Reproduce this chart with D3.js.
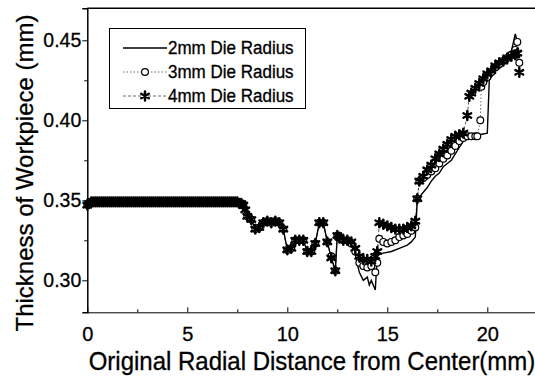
<!DOCTYPE html>
<html>
<head>
<meta charset="utf-8">
<script src="https://cdn.jsdelivr.net/npm/d3@7"></script>
<style>
  html, body { margin: 0; padding: 0; background: #fff; }
  svg { display: block; font-family: "Liberation Sans", Arial, Helvetica, sans-serif; }
  svg text { stroke: #000; stroke-width: 0.3px; }
</style>
</head>
<body>
<div id="chart"></div>
<script>
// tick labels
const xTicks = [0, 5, 10, 15, 20];
const xMinor = [2.5, 7.5, 12.5, 17.5];
const yTicks = [0.30, 0.35, 0.40, 0.45];
const yMinor = [0.325, 0.375, 0.425];
const seriesNames = ["2mm Die Radius", "3mm Die Radius", "4mm Die Radius"];

// [radial distance (mm), thickness (mm)]
const die2mm = [
  [0,0.347],[0.2,0.349],[0.4,0.349],[0.6,0.349],[0.8,0.349],[1.0,0.349],[1.2,0.349],[1.4,0.349],[1.6,0.349],[1.8,0.349],
  [2.0,0.349],[2.2,0.349],[2.4,0.349],[2.6,0.349],[2.8,0.349],[3.0,0.349],[3.2,0.349],[3.4,0.349],[3.6,0.349],[3.8,0.349],
  [4.0,0.349],[4.2,0.349],[4.4,0.349],[4.6,0.349],[4.8,0.349],[5.0,0.349],[5.2,0.349],[5.4,0.349],[5.6,0.349],[5.8,0.349],
  [6.0,0.349],[6.2,0.349],[6.4,0.349],[6.6,0.349],[6.8,0.349],[7.0,0.349],[7.2,0.349],[7.4,0.349],[7.6,0.348],[7.8,0.347],
  [8.0,0.340],[8.2,0.338],[8.4,0.332],[8.6,0.333],[8.8,0.336],[9.0,0.337],[9.2,0.336],[9.4,0.337],[9.6,0.336],[9.8,0.332],
  [10.0,0.319],[10.2,0.320],[10.4,0.325],[10.6,0.325],[10.8,0.325],[11.0,0.318],[11.2,0.318],[11.4,0.323],[11.6,0.336],[11.8,0.336],
  [12.0,0.324],[12.2,0.314],[12.4,0.306],[12.5,0.328],[12.6,0.327],[12.8,0.325],[13.0,0.325],[13.2,0.322],[13.4,0.316],[13.6,0.305],
  [13.8,0.300],[14.0,0.302],[14.1,0.297],[14.2,0.300],[14.4,0.294],[14.5,0.316],[14.8,0.317],[15.2,0.318],[15.6,0.320],[16.0,0.322],
  [16.2,0.324],[16.4,0.327],[16.5,0.350],[16.6,0.352],[16.8,0.355],[17.0,0.358],[17.2,0.362],[17.4,0.365],[17.6,0.367],[17.8,0.371],
  [18.0,0.373],[18.2,0.375],[18.4,0.379],[18.6,0.383],[18.8,0.387],[19.0,0.389],[19.2,0.391],[19.6,0.391],[20.0,0.392],[20.1,0.425],
  [20.4,0.431],[20.7,0.435],[21.0,0.439],[21.2,0.443],[21.4,0.454],[21.5,0.449]
];

const die3mm = [
  [0,0.347],[0.2,0.349],[0.4,0.349],[0.6,0.349],[0.8,0.349],[1.0,0.349],[1.2,0.349],[1.4,0.349],[1.6,0.349],[1.8,0.349],
  [2.0,0.349],[2.2,0.349],[2.4,0.349],[2.6,0.349],[2.8,0.349],[3.0,0.349],[3.2,0.349],[3.4,0.349],[3.6,0.349],[3.8,0.349],
  [4.0,0.349],[4.2,0.349],[4.4,0.349],[4.6,0.349],[4.8,0.349],[5.0,0.349],[5.2,0.349],[5.4,0.349],[5.6,0.349],[5.8,0.349],
  [6.0,0.349],[6.2,0.349],[6.4,0.349],[6.6,0.349],[6.8,0.349],[7.0,0.349],[7.2,0.349],[7.4,0.349],[7.6,0.348],[7.8,0.347],
  [8.0,0.340],[8.2,0.338],[8.4,0.332],[8.6,0.333],[8.8,0.336],[9.0,0.337],[9.2,0.336],[9.4,0.337],[9.6,0.336],[9.8,0.332],
  [10.0,0.319],[10.2,0.320],[10.4,0.325],[10.6,0.325],[10.8,0.325],[11.0,0.318],[11.2,0.318],[11.4,0.323],[11.6,0.336],[11.8,0.336],
  [12.0,0.324],[12.2,0.315],[12.4,0.306],[12.5,0.328],[12.6,0.327],[12.8,0.325],[13.0,0.325],[13.2,0.323],[13.4,0.318],[13.6,0.311],
  [13.8,0.309],[14.0,0.308],[14.2,0.309],[14.4,0.305],[14.5,0.311],[14.6,0.326],[14.8,0.324],[15.0,0.323],[15.2,0.324],[15.4,0.325],
  [15.6,0.327],[15.8,0.328],[16.0,0.329],[16.2,0.331],[16.4,0.333],[16.5,0.351],[16.6,0.362],[16.8,0.364],[17.0,0.366],[17.2,0.368],
  [17.4,0.370],[17.6,0.373],[17.8,0.376],[18.0,0.378],[18.2,0.381],[18.4,0.384],[18.6,0.387],[18.8,0.389],[19.0,0.390],[19.2,0.390],
  [19.4,0.390],[19.5,0.390],[19.65,0.400],[19.7,0.421],[19.8,0.424],[20.0,0.427],[20.2,0.430],[20.4,0.433],[20.6,0.435],[20.8,0.437],
  [21.0,0.439],[21.2,0.441],[21.4,0.444],[21.5,0.449],[21.6,0.436]
];

const die4mm = [
  [0,0.347],[0.1,0.348],[0.2,0.349],[0.3,0.349],[0.4,0.349],[0.5,0.349],[0.6,0.349],[0.7,0.349],[0.8,0.349],[0.9,0.349],
  [1.0,0.349],[1.1,0.349],[1.2,0.349],[1.3,0.349],[1.4,0.349],[1.5,0.349],[1.6,0.349],[1.7,0.349],[1.8,0.349],[1.9,0.349],
  [2.0,0.349],[2.1,0.349],[2.2,0.349],[2.3,0.349],[2.4,0.349],[2.5,0.349],[2.6,0.349],[2.7,0.349],[2.8,0.349],[2.9,0.349],
  [3.0,0.349],[3.1,0.349],[3.2,0.349],[3.3,0.349],[3.4,0.349],[3.5,0.349],[3.6,0.349],[3.7,0.349],[3.8,0.349],[3.9,0.349],
  [4.0,0.349],[4.1,0.349],[4.2,0.349],[4.3,0.349],[4.4,0.349],[4.5,0.349],[4.6,0.349],[4.7,0.349],[4.8,0.349],[4.9,0.349],
  [5.0,0.349],[5.1,0.349],[5.2,0.349],[5.3,0.349],[5.4,0.349],[5.5,0.349],[5.6,0.349],[5.7,0.349],[5.8,0.349],[5.9,0.349],
  [6.0,0.349],[6.1,0.349],[6.2,0.349],[6.3,0.349],[6.4,0.349],[6.5,0.349],[6.6,0.349],[6.7,0.349],[6.8,0.349],[6.9,0.349],
  [7.0,0.349],[7.1,0.349],[7.2,0.349],[7.3,0.349],[7.4,0.349],[7.5,0.349],[7.6,0.348],[7.7,0.348],[7.8,0.347],[7.9,0.344],
  [8.0,0.340],[8.2,0.338],[8.4,0.332],[8.6,0.333],[8.8,0.336],[9.0,0.337],[9.2,0.336],[9.4,0.337],[9.6,0.336],[9.8,0.332],
  [10.0,0.319],[10.2,0.320],[10.4,0.325],[10.6,0.325],[10.8,0.325],[11.0,0.318],[11.2,0.318],[11.4,0.323],[11.6,0.336],[11.8,0.336],
  [12.0,0.324],[12.2,0.314],[12.4,0.306],[12.5,0.328],[12.6,0.327],[12.8,0.325],[13.0,0.325],[13.2,0.324],[13.4,0.320],[13.6,0.315],
  [13.8,0.313],[14.0,0.313],[14.2,0.312],[14.4,0.315],[14.5,0.318],[14.6,0.336],[14.8,0.335],[15.0,0.334],[15.2,0.333],[15.4,0.332],
  [15.6,0.332],[15.8,0.332],[16.0,0.333],[16.2,0.334],[16.4,0.337],[16.5,0.351],[16.6,0.362],[16.8,0.365],[17.0,0.369],[17.2,0.372],
  [17.4,0.376],[17.6,0.379],[17.8,0.382],[18.0,0.385],[18.2,0.388],[18.4,0.390],[18.6,0.391],[18.8,0.392],[19.0,0.403],[19.1,0.415],
  [19.2,0.417],[19.4,0.420],[19.6,0.423],[19.8,0.426],[20.0,0.429],[20.2,0.431],[20.4,0.434],[20.6,0.436],[20.8,0.437],[21.0,0.439],
  [21.2,0.440],[21.4,0.441],[21.5,0.442],[21.6,0.430]
];

const width = 535, height = 378;
const plotLeft = 87.3, plotTop = 8.3, plotBottom = 312.3;

const svg = d3.select("#chart").append("svg")
  .attr("width", width)
  .attr("height", height);

const x = d3.scaleLinear().domain([0, 22.5]).range([plotLeft, plotLeft + 22.5 * 20]);
const y = d3.scaleLinear().domain([0.28, 0.47]).range([plotBottom, plotTop]);

// frame top
svg.append("line")
  .attr("x1", plotLeft).attr("x2", width)
  .attr("y1", plotTop).attr("y2", plotTop)
  .attr("stroke", "#000").attr("stroke-width", 1.6);

// y axis
const yAxis = svg.append("g")
  .attr("transform", "translate(" + plotLeft + ",0)")
  .call(d3.axisLeft(y).tickValues(yTicks).tickSize(5).tickPadding(1).tickFormat(d3.format(".2f")));
yAxis.select(".domain").attr("stroke-width", 1.5);
yAxis.selectAll("text").attr("font-size", 19.5).attr("fill", "#000").attr("font-family", null);
svg.append("g")
  .attr("transform", "translate(" + plotLeft + ",0)")
  .call(d3.axisLeft(y).tickValues(yMinor).tickSize(3).tickFormat(""))
  .select(".domain").remove();

// x axis, ticks pointing in
const xAxis = svg.append("g")
  .attr("transform", "translate(0," + plotBottom + ")")
  .call(d3.axisBottom(x).tickValues(xTicks).tickSizeInner(-5).tickSizeOuter(0).tickPadding(15));
xAxis.selectAll("text").attr("font-size", 20).attr("fill", "#000").attr("font-family", null);
svg.append("g")
  .attr("transform", "translate(0," + plotBottom + ")")
  .call(d3.axisBottom(x).tickValues(xMinor).tickSizeInner(-3).tickSizeOuter(0).tickFormat(""))
  .select(".domain").remove();

// axis titles
svg.append("text")
  .attr("transform", "translate(312,370) scale(1,1.08)")
  .attr("text-anchor", "middle")
  .attr("font-size", 24)
  .text("Original Radial Distance from Center(mm)");

svg.append("text")
  .attr("transform", "translate(33,173) rotate(-90)")
  .attr("text-anchor", "middle")
  .attr("font-size", 24)
  .text("Thickness of Workpiece (mm)");

const line = d3.line().x(d => x(d[0])).y(d => y(d[1]));
const star = d3.symbol().type(d3.symbolAsterisk).size(55);

const plot = svg.append("g");

plot.append("path").datum(die3mm)
  .attr("d", line).attr("fill", "none")
  .attr("stroke", "#444").attr("stroke-width", 0.8).attr("stroke-dasharray", "1.5,2");
plot.append("path").datum(die4mm)
  .attr("d", line).attr("fill", "none")
  .attr("stroke", "#333").attr("stroke-width", 0.8).attr("stroke-dasharray", "3,2");
plot.append("path").datum(die2mm)
  .attr("d", line).attr("fill", "none")
  .attr("stroke", "#000").attr("stroke-width", 1.4);

plot.selectAll("circle.m3").data(die3mm).enter().append("circle")
  .attr("class", "m3")
  .attr("cx", d => x(d[0])).attr("cy", d => y(d[1]))
  .attr("r", 3.4).attr("fill", "#fff").attr("stroke", "#000").attr("stroke-width", 1.2);

plot.selectAll("path.m4").data(die4mm).enter().append("path")
  .attr("class", "m4")
  .attr("transform", d => "translate(" + x(d[0]) + "," + y(d[1]) + ")")
  .attr("d", star).attr("fill", "none").attr("stroke", "#000")
  .attr("stroke-width", 2.5).attr("stroke-linecap", "round");

// legend
const lg = svg.append("g");
lg.append("rect")
  .attr("x", 109.5).attr("y", 28.5).attr("width", 196).attr("height", 80)
  .attr("fill", "#fff").attr("stroke", "#000").attr("stroke-width", 1);
const rows = [48, 72, 96];
const dashes = [null, "1.5,2", "3,2"];
seriesNames.forEach((name, i) => {
  lg.append("line")
    .attr("x1", 123).attr("x2", 167).attr("y1", rows[i]).attr("y2", rows[i])
    .attr("stroke", i === 0 ? "#000" : "#444")
    .attr("stroke-width", i === 0 ? 1.4 : 0.8)
    .attr("stroke-dasharray", dashes[i]);
  if (i === 1) {
    lg.append("circle").attr("cx", 145).attr("cy", rows[i]).attr("r", 3.4)
      .attr("fill", "#fff").attr("stroke", "#000").attr("stroke-width", 1.2);
  }
  if (i === 2) {
    lg.append("path").attr("transform", "translate(145," + rows[i] + ")")
      .attr("d", star).attr("fill", "none").attr("stroke", "#000")
      .attr("stroke-width", 2.5).attr("stroke-linecap", "round");
  }
  lg.append("text")
    .attr("transform", "translate(168," + (rows[i] + 6) + ") scale(1,1.08)")
    .attr("font-size", 17)
    .text(name);
});
</script>
</body>
</html>
